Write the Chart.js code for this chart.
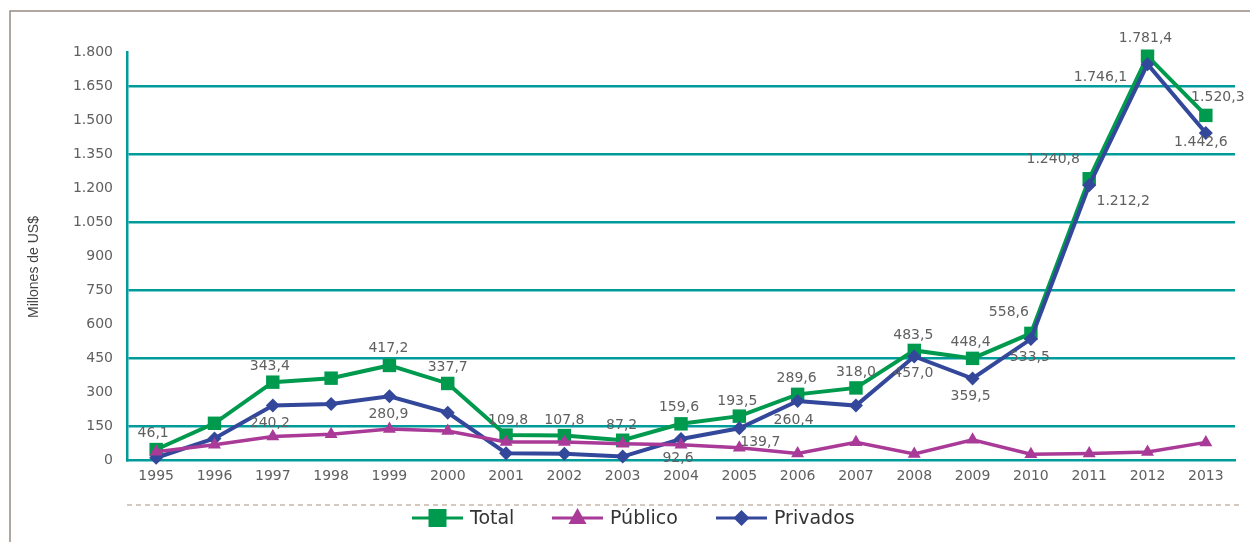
<!DOCTYPE html>
<html lang="es">
<head>
  <meta charset="UTF-8">
  <title>Inversión en millones de US$, 1995-2013</title>
  <script src="https://cdn.jsdelivr.net/npm/chart.js"></script>
  <style>
    html, body { margin: 0; padding: 0; background: #fff; }
    #wrap { width: 1250px; height: 542px; position: relative; }
  </style>
</head>
<body>
  <div id="wrap"><canvas id="chart" width="1250" height="542"></canvas></div>

  <script>
    // Datos (millones de US$)
    const years = ['1995', '1996', '1997', '1998', '1999', '2000', '2001', '2002', '2003', '2004',
                   '2005', '2006', '2007', '2008', '2009', '2010', '2011', '2012', '2013'];
    const total = [46.1, 162, 343.4, 361, 417.2, 337.7, 109.8, 107.8, 87.2, 159.6,
                   193.5, 289.6, 318.0, 483.5, 448.4, 558.6, 1240.8, 1781.4, 1520.3];
    const publico = [36.1, 67, 103.2, 114, 136.3, 128, 79.8, 79.8, 72.2, 67.0,
                     53.8, 29.2, 78.0, 26.5, 88.9, 25.1, 28.6, 35.3, 77.7];
    const privados = [10, 95, 240.2, 247, 280.9, 209, 30, 28, 15, 92.6,
                      139.7, 260.4, 240, 457.0, 359.5, 533.5, 1212.2, 1746.1, 1442.6];
    const yTicks = [0, 150, 300, 450, 600, 750, 900, 1050, 1200, 1350, 1500, 1650, 1800];

    const GREEN = '#009a4e';
    const MAGENTA = '#a93a98';
    const BLUE = '#33479b';
    const TEAL = '#009b9b';
    const TXT = '#606060';
    const FONT = '"DejaVu Sans", sans-serif';

    // 1781.4 -> "1.781,4"
    function fmt(v, dec) {
      const parts = v.toFixed(dec).split('.');
      const ent = parts[0].replace(/\B(?=(\d{3})+(?!\d))/g, '.');
      return parts.length > 1 ? ent + ',' + parts[1] : ent;
    }

    // posición de cada etiqueta respecto a su punto [dx, dy]
    const labelPos = {
      0: { 0: [-3, -16], 2: [-3, -16], 4: [-1, -17], 5: [0, -16], 6: [2, -15], 7: [0, -15],
           8: [-1, -15], 9: [-2, -16], 10: [-2, -15], 11: [-1, -16], 12: [0, -16], 13: [-1, -15],
           14: [-2, -16], 15: [-22, -21], 16: [-36, -19], 17: [-2, -18], 18: [12, -18] },
      2: { 2: [-3, 18], 4: [-1, 18], 9: [-3, 19], 10: [21, 14], 11: [-4, 19], 13: [-1, 17],
           14: [-2, 18], 15: [-1, 18], 16: [34, 16], 17: [-47, 13], 18: [-5, 9] }
    };

    const valueLabels = {
      id: 'valueLabels',
      afterDatasetsDraw(chart) {
        const ctx = chart.ctx;
        ctx.save();
        ctx.font = '14px ' + FONT;
        ctx.fillStyle = TXT;
        ctx.textAlign = 'center';
        ctx.textBaseline = 'middle';
        Object.keys(labelPos).forEach(di => {
          const meta = chart.getDatasetMeta(+di);
          const vals = chart.data.datasets[di].data;
          Object.keys(labelPos[di]).forEach(i => {
            const pt = meta.data[i];
            const [dx, dy] = labelPos[di][i];
            ctx.fillText(fmt(vals[i], 1), pt.x + dx, pt.y + dy);
          });
        });
        ctx.restore();
      }
    };

    function drawMarker(ctx, style, x, y, color) {
      ctx.fillStyle = color;
      ctx.beginPath();
      if (style === 'rect') {
        ctx.rect(x - 9, y - 9, 18, 18);
      } else if (style === 'triangle') {
        ctx.moveTo(x, y - 10);
        ctx.lineTo(x + 9, y + 6);
        ctx.lineTo(x - 9, y + 6);
        ctx.closePath();
      } else {
        ctx.moveTo(x, y - 8);
        ctx.lineTo(x + 8, y);
        ctx.lineTo(x, y + 8);
        ctx.lineTo(x - 8, y);
        ctx.closePath();
      }
      ctx.fill();
    }

    // marco, título del eje, línea punteada y leyenda
    const decor = {
      id: 'decor',
      beforeDraw(chart) {
        const ctx = chart.ctx;
        ctx.save();
        ctx.fillStyle = '#fff';
        ctx.fillRect(0, 0, chart.width, chart.height);
        ctx.strokeStyle = '#968b85';
        ctx.lineWidth = 1.5;
        ctx.beginPath();
        ctx.moveTo(10, chart.height);
        ctx.lineTo(10, 11);
        ctx.lineTo(chart.width, 11);
        ctx.stroke();
        ctx.restore();
      },
      afterDraw(chart) {
        const ctx = chart.ctx;
        const area = chart.chartArea;
        ctx.save();
        // título eje Y
        ctx.translate(34, 267);
        ctx.rotate(-Math.PI / 2);
        ctx.font = '14px "Liberation Sans", Arial, sans-serif';
        ctx.fillStyle = '#444';
        ctx.textAlign = 'center';
        ctx.textBaseline = 'middle';
        ctx.fillText('Millones de US$', 0, 0);
        ctx.restore();

        ctx.save();
        ctx.strokeStyle = '#c8b6aa';
        ctx.lineWidth = 1.5;
        ctx.setLineDash([5, 4]);
        ctx.beginPath();
        ctx.moveTo(area.left, 505);
        ctx.lineTo(1242, 505);
        ctx.stroke();
        ctx.setLineDash([]);

        const items = [
          { text: 'Total', color: GREEN, style: 'rect', x: 412 },
          { text: 'Público', color: MAGENTA, style: 'triangle', x: 552 },
          { text: 'Privados', color: BLUE, style: 'rectRot', x: 716 }
        ];
        const ly = 518;
        ctx.font = '19px ' + FONT;
        ctx.textBaseline = 'middle';
        ctx.textAlign = 'left';
        items.forEach(it => {
          ctx.strokeStyle = it.color;
          ctx.lineWidth = 3;
          ctx.beginPath();
          ctx.moveTo(it.x, ly);
          ctx.lineTo(it.x + 51, ly);
          ctx.stroke();
          drawMarker(ctx, it.style, it.x + 25.5, ly, it.color);
          ctx.fillStyle = '#333';
          ctx.fillText(it.text, it.x + 58, ly + 1);
        });
        ctx.restore();
      }
    };

    new Chart(document.getElementById('chart'), {
      type: 'line',
      data: {
        labels: years,
        datasets: [
          {
            label: 'Total',
            data: total,
            borderColor: GREEN,
            backgroundColor: GREEN,
            borderWidth: 4,
            pointStyle: 'rect',
            pointRadius: 9.5,
            pointBorderWidth: 0,
            order: 3,
            clip: false
          },
          {
            label: 'Público',
            data: publico,
            borderColor: MAGENTA,
            backgroundColor: MAGENTA,
            borderWidth: 3.5,
            pointStyle: 'triangle',
            pointRadius: 7.5,
            pointBorderWidth: 0,
            order: 1,
            clip: false
          },
          {
            label: 'Privados',
            data: privados,
            borderColor: BLUE,
            backgroundColor: BLUE,
            borderWidth: 4,
            pointStyle: 'rectRot',
            pointRadius: 7,
            pointBorderWidth: 0,
            order: 2,
            clip: false
          }
        ]
      },
      options: {
        responsive: false,
        animation: false,
        layout: { padding: { left: 0, top: 52, right: 15, bottom: 52 } },
        plugins: {
          legend: { display: false },
          tooltip: { enabled: false }
        },
        elements: { line: { tension: 0 } },
        scales: {
          x: {
            offset: true,
            grid: { display: false },
            border: { display: true, color: TEAL, width: 2.5 },
            ticks: { color: TXT, font: { family: FONT, size: 14 }, padding: 0, maxRotation: 0 },
            afterFit(scale) { scale.height = 30; }
          },
          y: {
            min: 0,
            max: 1800,
            afterBuildTicks(scale) { scale.ticks = yTicks.map(v => ({ value: v })); },
            grid: {
              drawTicks: false,
              lineWidth: 2.5,
              color: ctx => (ctx.tick && (ctx.tick.value - 150) % 300 === 0) ? TEAL : 'rgba(0,0,0,0)'
            },
            border: { display: true, color: TEAL, width: 2.5 },
            ticks: {
              color: TXT,
              font: { family: FONT, size: 14 },
              padding: 14,
              callback: v => fmt(v, 0)
            },
            afterFit(scale) { scale.width = 127; }
          }
        }
      },
      plugins: [decor, valueLabels]
    });
  </script>
</body>
</html>
